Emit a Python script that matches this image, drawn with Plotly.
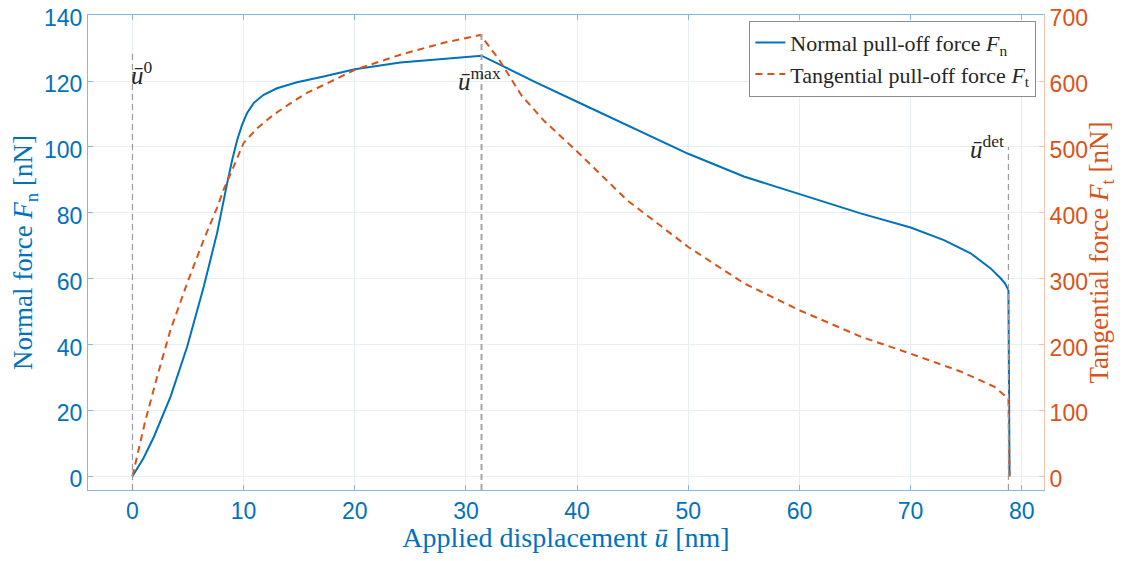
import plotly.graph_objects as go

# Normal pull-off force (left axis)
u_n = [0, 0.5, 1.0, 1.92, 3.42, 4.92, 6.41, 7.61, 8.07, 8.52, 8.97, 9.42, 9.86, 10.3,
       10.9, 11.8, 13.0, 14.8, 17.2, 18.7, 20.0, 24.1, 28.0, 30.0, 31.4, 33.7, 36.1,
       40.0, 44.5, 50.0, 55.0, 60.0, 65.5, 70.0, 73.0, 75.4, 77.2, 78.1, 78.5, 78.8,
       78.85, 78.9]
F_n = [0, 2.6, 5.5, 11.9, 24.1, 39.3, 57.5, 73.8, 81.9, 89.0, 96.0, 102.1, 106.7, 110.2,
       113.3, 115.8, 117.8, 119.6, 121.4, 122.7, 123.6, 125.6, 126.8, 127.3, 127.7, 123.9, 119.9,
       113.7, 106.7, 97.9, 91.0, 85.7, 79.8, 75.5, 71.7, 67.7, 63.1, 60.1, 58.5, 56.5,
       30.0, 0]

# Tangential pull-off force (right axis)
u_t = [0, 1.17, 2.22, 3.42, 4.92, 6.41, 7.6, 8.2, 9.1, 10.0, 11.2, 12.7, 14.2, 15.7,
       17.2, 18.7, 20.0, 24.1, 28.0, 31.3, 33.0, 35.0, 37.0, 40.0, 42.0, 44.5, 50.0,
       55.0, 60.0, 65.5, 70.0, 74.5, 77.5, 78.8, 78.9]
F_t = [0, 85, 151, 222, 293, 359, 407, 435, 470, 506, 528, 549, 566, 582,
       594, 607, 617, 640, 658, 670, 632, 578, 540, 493, 460, 419, 348,
       293, 252, 212, 186, 159, 136, 118, 0]

# Characteristic displacements (vertical markers)
u_marks = [0.0, 31.4, 78.8]
mark_tops = [129, 135, 100]
mark_labels = ["<i>ū</i><sup>0</sup>", "<i>ū</i><sup>max</sup>", "<i>ū</i><sup>det</sup>"]
label_x = [-0.3, 31.2, 78.6]
label_y = [122.5, 120.7, 100.0]
label_anchor = ["left", "center", "right"]

x_ticks = [0, 10, 20, 30, 40, 50, 60, 70, 80]
yl_ticks = [0, 20, 40, 60, 80, 100, 120, 140]
yr_ticks = [0, 100, 200, 300, 400, 500, 600, 700]
x_range = [-4, 82]
yl_range = [-4.2, 140.05]
yr_range = [-21, 700.25]

BLUE = "#0072BD"
ORANGE = "#D95319"
SERIF = "Liberation Serif"
SANS = "Liberation Sans"

fig = go.Figure()
fig.add_trace(go.Scatter(x=u_n, y=F_n, mode="lines", name="Normal pull-off force <i>F</i><sub>n</sub>",
                         line=dict(color=BLUE, width=2)))
fig.add_trace(go.Scatter(x=u_t, y=F_t, mode="lines", yaxis="y2",
                         name="Tangential pull-off force <i>F</i><sub>t</sub>",
                         line=dict(color=ORANGE, width=2, dash="7px,5px")))

for i, (u, top) in enumerate(zip(u_marks, mark_tops)):
    fig.add_shape(type="line", xref="x", yref="y", x0=u, x1=u, y0=yl_range[0], y1=top,
                  line=dict(color="#a6a6a6" if i == 1 else "#9a9a9a", width=2 if i == 1 else 1.2,
                            dash="6px,4px"),
                  layer="above")
    fig.add_annotation(x=label_x[i], y=label_y[i], xref="x", yref="y", text=mark_labels[i],
                       showarrow=False, xanchor=label_anchor[i], yanchor="middle",
                       font=dict(family=SERIF, size=25, color="#262626"))

axis_common = dict(showgrid=True, gridcolor="#e6eef7", gridwidth=1, zeroline=False,
                   ticks="inside", ticklen=5, showline=True, linewidth=1)

# page body has an 8px margin, so the figure is shifted by 8px
fig.update_layout(
    width=1110, height=545,
    margin=dict(l=80, r=74, t=7, b=63),
    paper_bgcolor="white", plot_bgcolor="white",
    xaxis=dict(range=x_range, tickvals=x_ticks, linecolor="#86b7de", tickcolor="#86b7de",
               mirror="ticks", automargin=False,
               tickfont=dict(family=SANS, size=23, color=BLUE),
               title=dict(text="Applied displacement <i>ū</i> [nm]", standoff=6,
                          font=dict(family=SERIF, size=28, color=BLUE)),
               **axis_common),
    yaxis=dict(range=yl_range, tickvals=yl_ticks, linecolor="#86b7de", tickcolor="#86b7de",
               automargin=False, ticklabeloverflow="allow", ticklabelshift=3,
               tickfont=dict(family=SANS, size=23, color=BLUE),
               title=dict(text="Normal force <i>F</i><sub>n</sub> [nN]", standoff=10,
                          font=dict(family=SERIF, size=27, color=BLUE)),
               **axis_common),
    yaxis2=dict(range=yr_range, tickvals=yr_ticks, overlaying="y", side="right",
                showgrid=False, zeroline=False, ticks="inside", ticklen=5, showline=True,
                linewidth=1, linecolor="#f1c3ac", tickcolor="#f1c3ac", automargin=False,
                ticklabeloverflow="allow", ticklabelshift=3,
                tickfont=dict(family=SANS, size=23, color=ORANGE),
                title=dict(text="Tangential force <i>F</i><sub>t</sub> [nN]", standoff=6,
                           font=dict(family=SERIF, size=27, color=ORANGE))),
    legend=dict(x=0.992, y=0.988, xanchor="right", yanchor="top", bgcolor="white",
                bordercolor="#8c8c8c", borderwidth=1,
                font=dict(family=SERIF, size=22, color="#262626"), tracegroupgap=0),
    showlegend=True,
)

fig.write_html("out.html")
